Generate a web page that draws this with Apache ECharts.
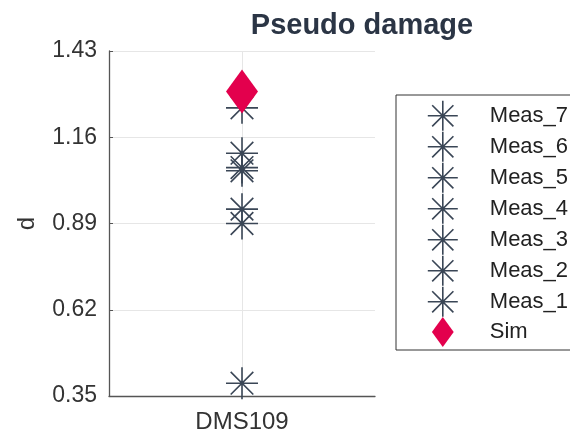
<!DOCTYPE html>
<html>
<head>
<meta charset="utf-8">
<script src="https://cdn.jsdelivr.net/npm/echarts@6/dist/echarts.min.js"></script>
<style>html,body{margin:0;padding:0;background:#fff;}#c{width:570px;height:435px;}</style>
</head>
<body>
<div id="c"></div>
<script>
var categories = ['DMS109'];
var measNames = ['Meas_1', 'Meas_2', 'Meas_3', 'Meas_4', 'Meas_5', 'Meas_6', 'Meas_7'];
var measValues = [0.39, 0.89, 0.935, 1.055, 1.065, 1.11, 1.252];
var simValues = [1.303];
var yTicks = [0.35, 0.62, 0.89, 1.16, 1.43];

var FONT = '"Liberation Sans", Arial, sans-serif';
var STAR = 'path://M0,16L32,16M16,0L16,32M4.69,4.69L27.31,27.31M27.31,4.69L4.69,27.31';
var DIAMOND = 'path://M16,0L32,22L16,44L0,22Z';
var starColor = '#3a4656';
var simColor = '#e3004d';

var series = [{
  type: 'scatter', name: '_grid', data: [], silent: true, z: 0,
  markLine: {
    silent: true, symbol: 'none', label: {show: false}, z: 1,
    lineStyle: {color: '#e6e6e6', type: 'solid', width: 1},
    emphasis: {disabled: true},
    data: [{xAxis: categories[0]}]
  }
}];
measNames.forEach(function (n, i) {
  series.push({
    type: 'scatter', name: n, symbol: STAR, symbolSize: 32, z: 10,
    itemStyle: {color: 'rgba(0,0,0,0)', borderColor: starColor, borderWidth: 1.6, opacity: 1},
    emphasis: {disabled: true},
    data: [[categories[0], measValues[i]]]
  });
});
series.push({
  type: 'scatter', name: 'Sim', symbol: DIAMOND, symbolSize: [32, 44], z: 11,
  itemStyle: {color: simColor, borderWidth: 0, opacity: 1},
  emphasis: {disabled: true},
  data: [[categories[0], simValues[0]]]
});

var legendData = measNames.slice().reverse().map(function (n) {
  return {name: n, icon: STAR, itemStyle: {color: 'rgba(0,0,0,0)', borderColor: starColor, borderWidth: 1.6, opacity: 1}};
});
legendData.push({name: 'Sim', icon: DIAMOND, itemStyle: {color: simColor, borderWidth: 0, opacity: 1}});

var chart = echarts.init(document.getElementById('c'), null, {renderer: 'canvas'});
chart.setOption({
  animation: false,
  backgroundColor: '#fff',
  textStyle: {fontFamily: FONT},
  title: {
    text: 'Pseudo damage', left: 357, top: 6, textAlign: 'center',
    textStyle: {fontFamily: FONT, fontSize: 29, fontWeight: 'bold', color: '#2b3545'}
  },
  grid: {left: 109, right: 195, top: 51, bottom: 39, containLabel: false},
  xAxis: {
    type: 'category', data: categories, boundaryGap: true,
    axisLine: {lineStyle: {color: '#555', width: 1.3}},
    axisTick: {show: false},
    axisLabel: {fontSize: 24, color: '#333', margin: 14, fontFamily: FONT},
    splitLine: {show: false}
  },
  yAxis: {
    type: 'value', min: 0.35, max: 1.43, interval: 0.27,
    name: 'd', nameLocation: 'middle', nameGap: 70,
    nameTextStyle: {fontSize: 24, color: '#333', fontFamily: FONT},
    axisLine: {show: true, lineStyle: {color: '#555', width: 1.3}},
    axisTick: {show: true, inside: true, length: 4, lineStyle: {color: '#555'}},
    axisLabel: {fontSize: 23, color: '#333', margin: 12, fontFamily: FONT,
      formatter: function (v) { return v.toFixed(2); }},
    splitLine: {show: true, lineStyle: {color: '#e6e6e6', width: 1}}
  },
  legend: {
    orient: 'vertical', left: 396, top: 95,
    padding: [5, 60, 3, 31],
    itemWidth: 32, itemHeight: 30, itemGap: -0.6,
    borderColor: '#333', borderWidth: 1, backgroundColor: '#fff',
    selectedMode: false,
    data: legendData,
    formatter: function (n) { return '{g|}{t|' + n + '}'; },
    textStyle: {
      fontFamily: FONT, fontSize: 22, color: '#222',
      rich: {g: {width: 26}, t: {fontSize: 22, color: '#222', fontFamily: FONT}}
    }
  },
  series: series
});
</script>
</body>
</html>
